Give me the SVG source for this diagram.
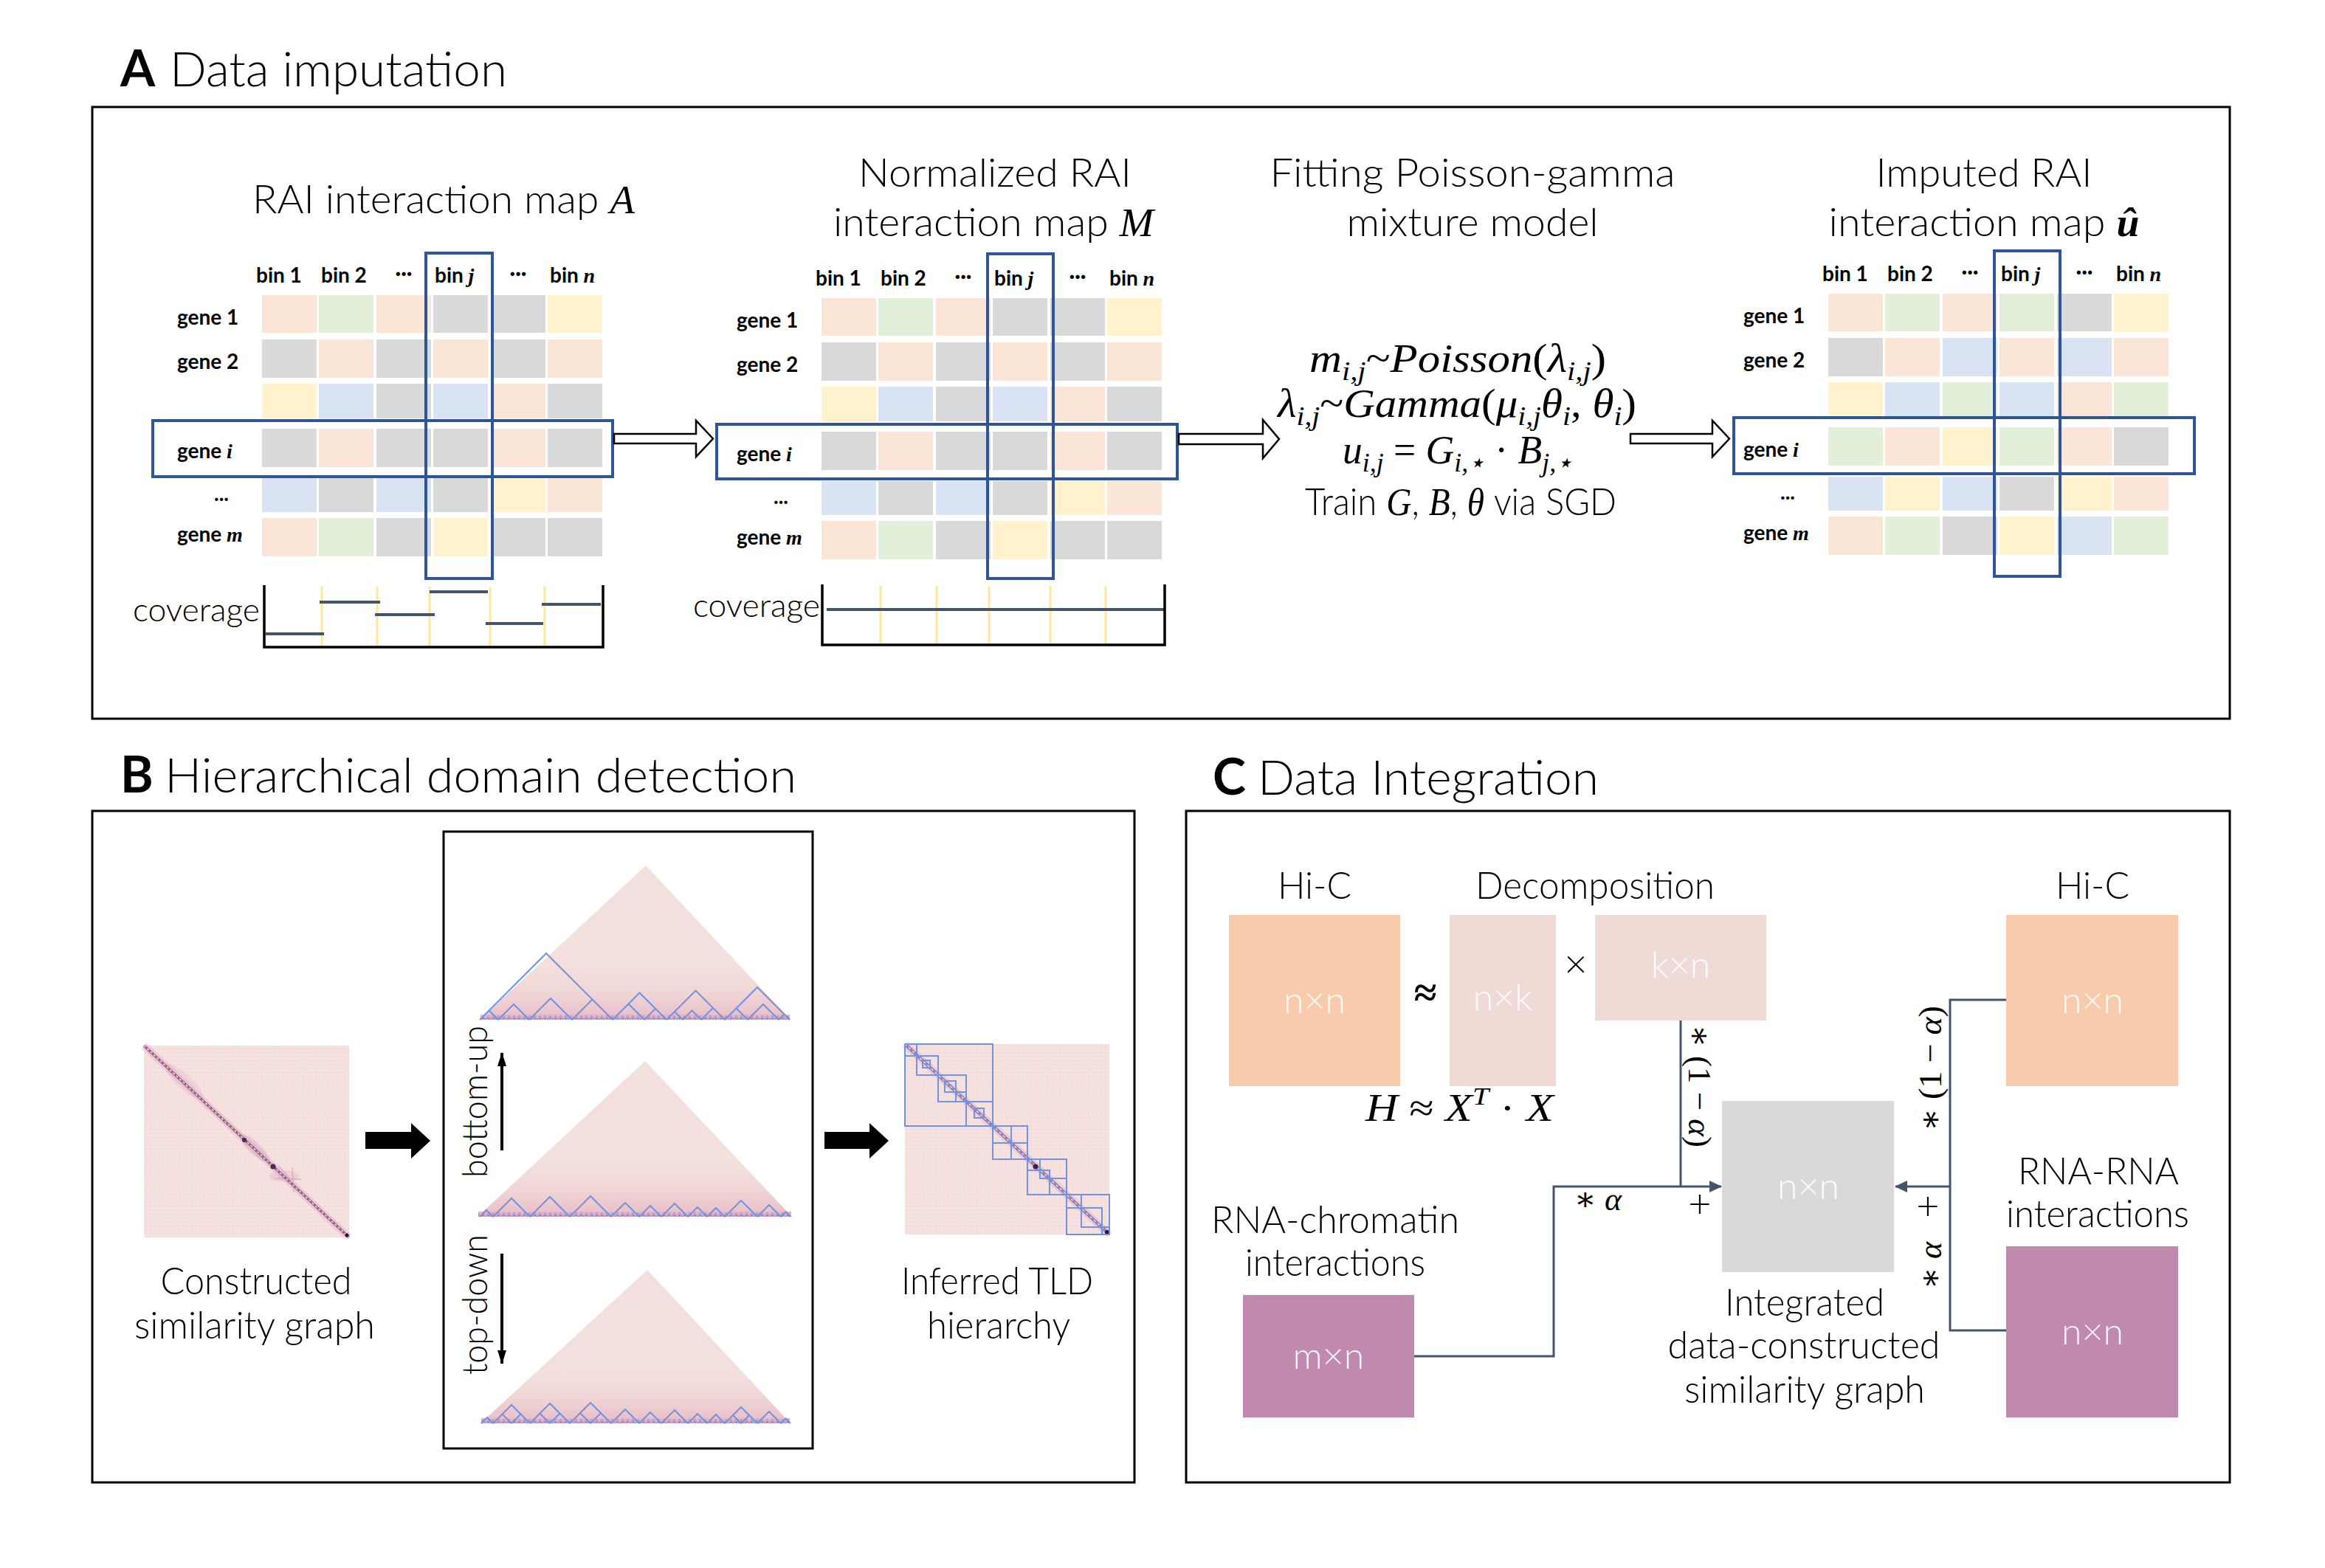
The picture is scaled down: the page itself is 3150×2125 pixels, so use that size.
<svg xmlns="http://www.w3.org/2000/svg" width="3150" height="2125" viewBox="0 0 3150 2125">
<defs>
<style>
.t{font-family:Lato,"Open Sans","Liberation Sans",sans-serif;font-weight:300;fill:#000}
.hd{font-family:Lato,"Liberation Sans",sans-serif;font-weight:700;fill:#000}
.mi{font-family:"Liberation Serif","DejaVu Serif",serif;font-style:italic;font-weight:400;fill:#000}
.n{font-style:normal}
.lab{font-family:Lato,"Liberation Sans",sans-serif;font-weight:700;font-size:28px;fill:#000}
.v{font-family:"Liberation Serif","DejaVu Serif",serif;font-style:italic;font-weight:700}
.P{fill:#FBE5D6}.G{fill:#E2F0D9}.Y{fill:#FFF2CC}.B{fill:#DAE3F3}.K{fill:#D9D9D9}
.panel{fill:none;stroke:#000;stroke-width:3}
.sel{fill:none;stroke:#2F5597;stroke-width:4}
.harrow{fill:#fff;stroke:#000;stroke-width:2.5}
.barrow{fill:#000;stroke:none}
.axis{fill:none;stroke:#000;stroke-width:3.5}
.ybar{stroke:#FFE699;stroke-width:3}
.step{stroke:#44546A;stroke-width:4}
.dom{fill:none;stroke:#7393E0;stroke-width:2}
.tri{fill:#F3DFDB}
.conn{fill:none;stroke:#44546A;stroke-width:3}
.bt{font-family:Lato,"Liberation Sans",sans-serif;font-weight:300;font-size:50px;fill:#fff;fill-opacity:0.9;text-anchor:middle}
.hm{fill:#F4DEDC}
.tld{fill:none;stroke:#7393E0;stroke-width:2}
.mid{text-anchor:middle}
</style>
<marker id="ah" markerUnits="userSpaceOnUse" markerWidth="18" markerHeight="18" refX="16" refY="9" orient="auto">
<path d="M0,1 L17,9 L0,17 z" fill="#44546A"/>
</marker>
<marker id="bh" markerUnits="userSpaceOnUse" markerWidth="20" markerHeight="14" refX="18" refY="7" orient="auto">
<path d="M0,1 L19,7 L0,13 z" fill="#000"/>
</marker>
<pattern id="hmgrid" width="5.6" height="5.2" patternUnits="userSpaceOnUse">
<path d="M5.6,0 V5.2 M0,5.2 H5.6" stroke="#fff" stroke-width="0.8" stroke-opacity="0.45" fill="none"/>
</pattern>
<pattern id="zig" width="7" height="7" patternUnits="userSpaceOnUse">
<rect width="7" height="7" fill="#E7B3C6"/>
<path d="M0,7 L3.5,1.5 L7,7" stroke="#7393E0" stroke-width="1" fill="none"/>
<circle cx="3.5" cy="5.5" r="1" fill="#9A4A7A"/>
</pattern>
<linearGradient id="basefade" x1="0" y1="1" x2="0" y2="0">
<stop offset="0" stop-color="#E0A2B8" stop-opacity="0.6"/>
<stop offset="0.2" stop-color="#E8BCC8" stop-opacity="0.2"/>
<stop offset="0.4" stop-color="#F3DFDB" stop-opacity="0"/>
</linearGradient>

<g id="grid12">
<rect class="P" x="0" y="0" width="74" height="51"/><rect class="G" x="77" y="0" width="74" height="51"/><rect class="P" x="155" y="0" width="74" height="51"/><rect class="K" x="232" y="0" width="74" height="51"/><rect class="K" x="310" y="0" width="74" height="51"/><rect class="Y" x="387" y="0" width="74" height="51"/>
<rect class="K" x="0" y="60" width="74" height="52"/><rect class="P" x="77" y="60" width="74" height="52"/><rect class="K" x="155" y="60" width="74" height="52"/><rect class="P" x="232" y="60" width="74" height="52"/><rect class="K" x="310" y="60" width="74" height="52"/><rect class="P" x="387" y="60" width="74" height="52"/>
<rect class="Y" x="0" y="120" width="74" height="47"/><rect class="B" x="77" y="120" width="74" height="47"/><rect class="K" x="155" y="120" width="74" height="47"/><rect class="B" x="232" y="120" width="74" height="47"/><rect class="P" x="310" y="120" width="74" height="47"/><rect class="K" x="387" y="120" width="74" height="47"/>
<rect class="K" x="0" y="181" width="74" height="52"/><rect class="P" x="77" y="181" width="74" height="52"/><rect class="K" x="155" y="181" width="74" height="52"/><rect class="K" x="232" y="181" width="74" height="52"/><rect class="P" x="310" y="181" width="74" height="52"/><rect class="K" x="387" y="181" width="74" height="52"/>
<rect class="B" x="0" y="248" width="74" height="46"/><rect class="K" x="77" y="248" width="74" height="46"/><rect class="B" x="155" y="248" width="74" height="46"/><rect class="K" x="232" y="248" width="74" height="46"/><rect class="Y" x="310" y="248" width="74" height="46"/><rect class="P" x="387" y="248" width="74" height="46"/>
<rect class="P" x="0" y="302" width="74" height="52"/><rect class="G" x="77" y="302" width="74" height="52"/><rect class="K" x="155" y="302" width="74" height="52"/><rect class="Y" x="232" y="302" width="74" height="52"/><rect class="K" x="310" y="302" width="74" height="52"/><rect class="K" x="387" y="302" width="74" height="52"/>
</g>
<g id="grid3">
<rect class="P" x="0" y="0" width="74" height="51"/><rect class="G" x="77" y="0" width="74" height="51"/><rect class="P" x="155" y="0" width="74" height="51"/><rect class="G" x="232" y="0" width="74" height="51"/><rect class="K" x="310" y="0" width="74" height="51"/><rect class="Y" x="387" y="0" width="74" height="51"/>
<rect class="K" x="0" y="60" width="74" height="52"/><rect class="P" x="77" y="60" width="74" height="52"/><rect class="B" x="155" y="60" width="74" height="52"/><rect class="P" x="232" y="60" width="74" height="52"/><rect class="B" x="310" y="60" width="74" height="52"/><rect class="P" x="387" y="60" width="74" height="52"/>
<rect class="Y" x="0" y="120" width="74" height="47"/><rect class="B" x="77" y="120" width="74" height="47"/><rect class="G" x="155" y="120" width="74" height="47"/><rect class="B" x="232" y="120" width="74" height="47"/><rect class="P" x="310" y="120" width="74" height="47"/><rect class="G" x="387" y="120" width="74" height="47"/>
<rect class="G" x="0" y="181" width="74" height="52"/><rect class="P" x="77" y="181" width="74" height="52"/><rect class="Y" x="155" y="181" width="74" height="52"/><rect class="G" x="232" y="181" width="74" height="52"/><rect class="P" x="310" y="181" width="74" height="52"/><rect class="K" x="387" y="181" width="74" height="52"/>
<rect class="B" x="0" y="248" width="74" height="46"/><rect class="Y" x="77" y="248" width="74" height="46"/><rect class="B" x="155" y="248" width="74" height="46"/><rect class="K" x="232" y="248" width="74" height="46"/><rect class="Y" x="310" y="248" width="74" height="46"/><rect class="P" x="387" y="248" width="74" height="46"/>
<rect class="P" x="0" y="302" width="74" height="52"/><rect class="G" x="77" y="302" width="74" height="52"/><rect class="K" x="155" y="302" width="74" height="52"/><rect class="Y" x="232" y="302" width="74" height="52"/><rect class="B" x="310" y="302" width="74" height="52"/><rect class="G" x="387" y="302" width="74" height="52"/>
</g>
<g id="maplab" class="lab">
<text x="-8" y="-17">bin 1</text>
<text x="80" y="-17">bin 2</text>
<text x="192" y="-20" class="mid">···</text>
<text x="234" y="-17">bin <tspan class="v">j</tspan></text>
<text x="347" y="-20" class="mid">···</text>
<text x="390" y="-17">bin <tspan class="v">n</tspan></text>
<text x="-115" y="40">gene 1</text>
<text x="-115" y="100">gene 2</text>
<text x="-115" y="221">gene <tspan class="v">i</tspan></text>
<text x="-55" y="279" class="mid">...</text>
<text x="-115" y="334">gene <tspan class="v">m</tspan></text>
</g>
</defs>

<rect x="0" y="0" width="3150" height="2125" fill="#fff"/>

<!-- Titles -->
<g id="title-A"><text class="hd" x="163" y="117" font-size="68">A</text><text class="t" x="230" y="117" font-size="66" textLength="457" lengthAdjust="spacingAndGlyphs">Data imputation</text></g>
<g id="title-B"><text class="hd" x="163" y="1074" font-size="68">B</text><text class="t" x="223" y="1074" font-size="66" textLength="856" lengthAdjust="spacingAndGlyphs">Hierarchical domain detection</text></g>
<g id="title-C"><text class="hd" x="1643" y="1077" font-size="68">C</text><text class="t" x="1704" y="1077" font-size="66" textLength="462" lengthAdjust="spacingAndGlyphs">Data Integration</text></g>

<!-- Panel frames -->
<g id="panel-frames">
<rect class="panel" x="125" y="145" width="2896" height="829"/>
<rect class="panel" x="125" y="1099" width="1412" height="910"/>
<rect class="panel" x="1607" y="1099" width="1414" height="910"/>
</g>

<!-- Panel A -->
<g id="map-A">
<text class="t" x="342" y="289" font-size="54" textLength="518" lengthAdjust="spacingAndGlyphs">RAI interaction map <tspan class="mi">A</tspan></text>
<use href="#grid12" transform="translate(355,400)"/>
<use href="#maplab" transform="translate(355,400)"/>
<rect class="sel" x="207" y="570" width="623" height="76"/>
<rect class="sel" x="577" y="343" width="90" height="441"/>
<g id="coverage-A">
<text class="t" x="352" y="842" font-size="44" text-anchor="end" textLength="172" lengthAdjust="spacingAndGlyphs">coverage</text>
<line class="ybar" x1="436" y1="795" x2="436" y2="877"/><line class="ybar" x1="511" y1="795" x2="511" y2="877"/><line class="ybar" x1="582" y1="795" x2="582" y2="877"/><line class="ybar" x1="664" y1="795" x2="664" y2="877"/><line class="ybar" x1="738" y1="795" x2="738" y2="877"/>
<line class="step" x1="360" y1="859" x2="439" y2="859"/>
<line class="step" x1="433" y1="816" x2="515" y2="816"/>
<line class="step" x1="508" y1="833" x2="589" y2="833"/>
<line class="step" x1="582" y1="802" x2="661" y2="802"/>
<line class="step" x1="658" y1="845" x2="736" y2="845"/>
<line class="step" x1="734" y1="819" x2="814" y2="819"/>
<path class="axis" d="M358,793 V877 H817 V793"/>
</g>
</g>

<g id="map-M">
<text class="t mid" x="1348" y="253" font-size="54" textLength="370" lengthAdjust="spacingAndGlyphs">Normalized RAI</text>
<text class="t mid" x="1346" y="320" font-size="54" textLength="434" lengthAdjust="spacingAndGlyphs">interaction map <tspan class="mi">M</tspan></text>
<use href="#grid12" transform="translate(1113,404)"/>
<use href="#maplab" transform="translate(1113,404)"/>
<rect class="sel" x="971" y="575" width="624" height="74"/>
<rect class="sel" x="1338" y="344" width="89" height="440"/>
<g id="coverage-M">
<text class="t" x="1111" y="836" font-size="44" text-anchor="end" textLength="172" lengthAdjust="spacingAndGlyphs">coverage</text>
<line class="ybar" x1="1193" y1="794" x2="1193" y2="874"/><line class="ybar" x1="1269" y1="794" x2="1269" y2="874"/><line class="ybar" x1="1340" y1="794" x2="1340" y2="874"/><line class="ybar" x1="1423" y1="794" x2="1423" y2="874"/><line class="ybar" x1="1498" y1="794" x2="1498" y2="874"/>
<line class="step" x1="1120" y1="826" x2="1577" y2="826"/>
<path class="axis" d="M1114,792 V874 H1578 V792"/>
</g>
</g>

<g id="model-fit">
<text class="t mid" x="1995" y="253" font-size="54" textLength="549" lengthAdjust="spacingAndGlyphs">Fitting Poisson-gamma</text>
<text class="t mid" x="1995" y="320" font-size="54" textLength="341" lengthAdjust="spacingAndGlyphs">mixture model</text>
<text class="mi mid" x="1975" y="504" font-size="54" textLength="402" lengthAdjust="spacingAndGlyphs">m<tspan font-size="36" dy="11">i,j</tspan><tspan class="n" dy="-11">~</tspan>Poisson<tspan class="n">(</tspan>λ<tspan font-size="36" dy="11">i,j</tspan><tspan class="n" dy="-11">)</tspan></text>
<text class="mi mid" x="1974" y="565" font-size="54" textLength="486" lengthAdjust="spacingAndGlyphs">λ<tspan font-size="36" dy="11">i,j</tspan><tspan class="n" dy="-11">~</tspan>Gamma<tspan class="n">(</tspan>μ<tspan font-size="36" dy="11">i,j</tspan><tspan dy="-11">θ</tspan><tspan font-size="36" dy="11">i</tspan><tspan class="n" dy="-11">, </tspan>θ<tspan font-size="36" dy="11">i</tspan><tspan class="n" dy="-11">)</tspan></text>
<text class="mi mid" x="1975" y="628" font-size="54" textLength="312" lengthAdjust="spacingAndGlyphs">u<tspan font-size="36" dy="11">i,j</tspan><tspan class="n" dy="-11"> = </tspan>G<tspan font-size="36" dy="11">i,⋆</tspan><tspan class="n" dy="-11"> · </tspan>B<tspan font-size="36" dy="11">j,⋆</tspan></text>
<text class="t mid" x="1979" y="698" font-size="52" textLength="422" lengthAdjust="spacingAndGlyphs">Train <tspan class="mi">G</tspan>, <tspan class="mi">B</tspan>, <tspan class="mi">θ</tspan> via SGD</text>
</g>

<g id="map-U">
<text class="t mid" x="2688" y="253" font-size="54" textLength="293" lengthAdjust="spacingAndGlyphs">Imputed RAI</text>
<text class="t mid" x="2688" y="320" font-size="54" textLength="421" lengthAdjust="spacingAndGlyphs">interaction map <tspan class="v">û</tspan></text>
<use href="#grid3" transform="translate(2477,398)"/>
<use href="#maplab" transform="translate(2477,398)"/>
<rect class="sel" x="2349" y="566" width="624" height="76"/>
<rect class="sel" x="2702" y="340" width="89" height="441"/>
</g>

<!-- Panel B -->
<g id="similarity-graph">
<rect class="hm" x="195" y="1417" width="278" height="260"/>
<rect x="195" y="1417" width="278" height="260" fill="url(#hmgrid)"/>
<ellipse cx="250" cy="1466" rx="34" ry="10" transform="rotate(43 250 1466)" fill="#E2B9C8" opacity="0.35"/>
<ellipse cx="345" cy="1556" rx="26" ry="8" transform="rotate(43 345 1556)" fill="#C98FAE" opacity="0.3"/>
<ellipse cx="385" cy="1594" rx="20" ry="8" fill="#D7A5BC" opacity="0.3"/>
<path d="M378,1580 L392,1598 M372,1597 L408,1598 M396,1582 L398,1616" stroke="#C08AA8" stroke-width="1.5" opacity="0.45"/>
<line x1="195" y1="1417" x2="473" y2="1677" stroke="#D5A3B8" stroke-opacity="0.35" stroke-width="10"/>
<line x1="195" y1="1417" x2="473" y2="1677" stroke="#9C5A88" stroke-width="3.5"/>
<line x1="195" y1="1417" x2="473" y2="1677" stroke="#F6E3E8" stroke-width="1.5" stroke-dasharray="3 3"/>
<circle cx="331" cy="1545" r="3" fill="#4E2550"/><circle cx="370" cy="1581" r="3.5" fill="#4E2550"/><circle cx="470" cy="1674" r="2.5" fill="#2A1430"/>
<text class="t mid" x="347" y="1754" font-size="52" textLength="259" lengthAdjust="spacingAndGlyphs">Constructed</text>
<text class="t mid" x="345" y="1814" font-size="52" textLength="326" lengthAdjust="spacingAndGlyphs">similarity graph</text>
</g>

<g id="tld-detection">
<rect class="panel" x="601" y="1127" width="500" height="836"/>
<g id="tri-top" transform="translate(0,1382)">
<polygon class="tri" points="650,0 875,-209 1071,0"/>
<polygon points="650,0 875,-209 1071,0" fill="url(#basefade)"/>
<rect x="651" y="-7" width="419" height="7" fill="url(#zig)"/>
<path class="dom" d="M650,0 L740,-90 L830,0 M650,0 L662.5,-12.5 L675,0 M675,0 L696,-21 L717,0 M717,0 L746,-29 L775,0 M775,0 L802.5,-27.5 L830,0 M830,0 L866.5,-36.5 L903,0 M830,0 L851.5,-21.5 L873,0 M873,0 L888,-15 L903,0 M903,0 L942.5,-39.5 L982,0 M903,0 L914,-11 L925,0 M925,0 L937.5,-12.5 L950,0 M950,0 L966,-16 L982,0 M982,0 L1026,-44 L1070,0 M982,0 L997.5,-15.5 L1013,0 M1013,0 L1034,-21 L1055,0 M1055,0 L1062.5,-7.5 L1070,0"/>
</g>
<g id="tri-mid" transform="translate(0,1649)">
<polygon class="tri" points="647,0 874,-211 1073,0"/>
<polygon points="647,0 874,-211 1073,0" fill="url(#basefade)"/>
<rect x="648" y="-7" width="424" height="7" fill="url(#zig)"/>
<path class="dom" d="M650,0 L659,-9 L668,0 M668,0 L693,-25 L718,0 M718,0 L745,-27 L772,0 M772,0 L800,-28 L828,0 M828,0 L847,-19 L866,0 M866,0 L881,-15 L896,0 M896,0 L914,-18 L932,0 M932,0 L945,-13 L958,0 M958,0 L970,-12 L982,0 M982,0 L1004,-22 L1026,0 M1026,0 L1042,-16 L1058,0 M1058,0 L1064.5,-6.5 L1071,0"/>
</g>
<g id="tri-bot" transform="translate(0,1929)">
<polygon class="tri" points="651,0 877,-208 1071,0"/>
<polygon points="651,0 877,-208 1071,0" fill="url(#basefade)"/>
<rect x="652" y="-7" width="418" height="7" fill="url(#zig)"/>
<path class="dom" d="M652,0 L660,-8 L668,0 M668,0 L693,-25 L718,0 M668,0 L680.5,-12.5 L693,0 M693,0 L705.5,-12.5 L718,0 M718,0 L745,-27 L772,0 M718,0 L731.5,-13.5 L745,0 M745,0 L758.5,-13.5 L772,0 M772,0 L800,-28 L828,0 M772,0 L786,-14 L800,0 M800,0 L814,-14 L828,0 M828,0 L847,-19 L866,0 M866,0 L881,-15 L896,0 M896,0 L914,-18 L932,0 M932,0 L945,-13 L958,0 M958,0 L970,-12 L982,0 M982,0 L1004,-22 L1026,0 M982,0 L993,-11 L1004,0 M1004,0 L1015,-11 L1026,0 M1026,0 L1042,-16 L1058,0 M1058,0 L1064.5,-6.5 L1071,0"/>
</g>
<text class="t" transform="translate(660,1493) rotate(-90)" font-size="48" text-anchor="middle" textLength="206" lengthAdjust="spacingAndGlyphs">bottom-up</text>
<text class="t" transform="translate(660,1768) rotate(-90)" font-size="48" text-anchor="middle" textLength="190" lengthAdjust="spacingAndGlyphs">top-down</text>
<line x1="680" y1="1559" x2="680" y2="1427" stroke="#000" stroke-width="4" marker-end="url(#bh)"/>
<line x1="680" y1="1699" x2="680" y2="1848" stroke="#000" stroke-width="4" marker-end="url(#bh)"/>
</g>

<g id="tld-hierarchy">
<rect class="hm" x="1226" y="1415" width="277" height="258"/>
<rect x="1226" y="1415" width="277" height="258" fill="url(#hmgrid)"/>
<line x1="1226" y1="1415" x2="1503" y2="1673" stroke="#D5A3B8" stroke-opacity="0.35" stroke-width="10"/>
<line x1="1226" y1="1415" x2="1503" y2="1673" stroke="#9C5A88" stroke-width="4"/>
<line x1="1226" y1="1415" x2="1503" y2="1673" stroke="#7393E0" stroke-width="2.5"/>
<line x1="1226" y1="1415" x2="1503" y2="1673" stroke="#F6E3E8" stroke-width="1.5" stroke-dasharray="3 4"/>
<circle cx="1403" cy="1581" r="3.5" fill="#3E1F45"/><circle cx="1500" cy="1670" r="3" fill="#2A1430"/>
<rect class="tld" x="1226" y="1415" width="119" height="111"/>
<rect class="tld" x="1226" y="1415" width="16" height="16"/>
<rect class="tld" x="1242" y="1431" width="29" height="26"/>
<rect class="tld" x="1271" y="1457" width="38" height="36"/>
<rect class="tld" x="1309" y="1493" width="36" height="33"/>
<rect class="tld" x="1250" y="1437" width="10" height="10"/>
<rect class="tld" x="1280" y="1465" width="15" height="15"/>
<rect class="tld" x="1295" y="1480" width="14" height="13"/>
<rect class="tld" x="1320" y="1502" width="13" height="13"/>
<rect class="tld" x="1345" y="1526" width="47" height="45"/>
<rect class="tld" x="1345" y="1526" width="25" height="23"/>
<rect class="tld" x="1370" y="1549" width="22" height="22"/>
<rect class="tld" x="1392" y="1571" width="53" height="48"/>
<rect class="tld" x="1392" y="1571" width="17" height="15"/>
<rect class="tld" x="1409" y="1586" width="13" height="11"/>
<rect class="tld" x="1422" y="1597" width="23" height="22"/>
<rect class="tld" x="1445" y="1619" width="58" height="54"/>
<rect class="tld" x="1445" y="1619" width="20" height="18"/>
<rect class="tld" x="1465" y="1637" width="28" height="26"/>
<rect class="tld" x="1493" y="1663" width="10" height="10"/>
<text class="t mid" x="1351" y="1754" font-size="52" textLength="260" lengthAdjust="spacingAndGlyphs">Inferred TLD</text>
<text class="t mid" x="1353" y="1814" font-size="52" textLength="194" lengthAdjust="spacingAndGlyphs">hierarchy</text>
</g>

<!-- Panel C -->
<g id="hic-left">
<text class="t mid" x="1781" y="1218" font-size="52" textLength="100" lengthAdjust="spacingAndGlyphs">Hi-C</text>
<rect x="1665" y="1240" width="232" height="232" fill="#F8CBAD"/>
<text class="bt" x="1781" y="1373">n×n</text>
</g>
<g id="decomposition">
<text class="t mid" x="2161" y="1218" font-size="52" textLength="324" lengthAdjust="spacingAndGlyphs">Decomposition</text>
<text x="1931" y="1364" font-family="'Liberation Serif',serif" font-weight="700" font-size="56" text-anchor="middle">≈</text>
<rect x="1964" y="1240" width="144" height="232" fill="#EFDAD5"/>
<text class="bt" x="2036" y="1369">n×k</text>
<text class="t mid" x="2135" y="1325" font-size="54">×</text>
<rect x="2161" y="1240" width="232" height="143" fill="#EFDAD5"/>
<text class="bt" x="2277" y="1325">k×n</text>
<text class="mi" x="1850" y="1519" font-size="52" textLength="255" lengthAdjust="spacingAndGlyphs">H <tspan class="n">≈</tspan> X<tspan font-size="34" dy="-22">T</tspan><tspan class="n" dy="22"> · </tspan>X</text>
</g>
<g id="integrated">
<rect x="2333" y="1492" width="233" height="232" fill="#D9D9D9"/>
<text class="bt" x="2450" y="1625">n×n</text>
<text class="t mid" x="2445" y="1783" font-size="52" textLength="216" lengthAdjust="spacingAndGlyphs">Integrated</text>
<text class="t mid" x="2444" y="1841" font-size="52" textLength="369" lengthAdjust="spacingAndGlyphs">data-constructed</text>
<text class="t mid" x="2445" y="1901" font-size="52" textLength="326" lengthAdjust="spacingAndGlyphs">similarity graph</text>
</g>
<g id="hic-right">
<text class="t mid" x="2835" y="1218" font-size="52" textLength="100" lengthAdjust="spacingAndGlyphs">Hi-C</text>
<rect x="2718" y="1240" width="233" height="232" fill="#F8CBAD"/>
<text class="bt" x="2835" y="1373">n×n</text>
</g>
<g id="rna-rna">
<text class="t mid" x="2843" y="1605" font-size="52" textLength="218" lengthAdjust="spacingAndGlyphs">RNA-RNA</text>
<text class="t mid" x="2842" y="1663" font-size="52" textLength="248" lengthAdjust="spacingAndGlyphs">interactions</text>
<rect x="2718" y="1689" width="233" height="232" fill="#C08AAE"/>
<text class="bt" x="2835" y="1822">n×n</text>
</g>
<g id="rna-chromatin">
<text class="t mid" x="1809" y="1671" font-size="52" textLength="336" lengthAdjust="spacingAndGlyphs">RNA-chromatin</text>
<text class="t mid" x="1809" y="1729" font-size="52" textLength="244" lengthAdjust="spacingAndGlyphs">interactions</text>
<rect x="1684" y="1755" width="232" height="166" fill="#C08AAE"/>
<text class="bt" x="1800" y="1855">m×n</text>
</g>

<!-- Connectors -->
<g id="connectors">
<polygon class="harrow" points="832,588 943,588 943,570 966,594.5 943,619 943,601 832,601"/>
<polygon class="harrow" points="1597,588 1711,588 1711,569 1733,595 1711,621 1711,602 1597,602"/>
<polygon class="harrow" points="2209,588 2320,588 2320,570 2343,594.5 2320,619 2320,601 2209,601"/>
<polygon class="barrow" points="495,1534 557,1534 557,1522 583,1546 557,1570 557,1557 495,1557"/>
<polygon class="barrow" points="1117,1534 1178,1534 1178,1522 1204,1546 1178,1570 1178,1557 1117,1557"/>
<path class="conn" d="M2277,1383 V1608"/>
<path class="conn" d="M1916,1838 H2105 V1608 H2332" marker-end="url(#ah)"/>
<path class="conn" d="M2718,1355 H2642 V1803 H2718"/>
<path class="conn" d="M2642,1608 H2568" marker-end="url(#ah)"/>
<text class="mi" transform="translate(2288,1472) rotate(90)" font-size="44" text-anchor="middle" textLength="166" lengthAdjust="spacingAndGlyphs"><tspan class="n">∗ (1 − </tspan>α<tspan class="n">)</tspan></text>
<text class="mi" transform="translate(2630,1448) rotate(-90)" font-size="44" text-anchor="middle" textLength="170" lengthAdjust="spacingAndGlyphs"><tspan class="n">∗ (1 − </tspan>α<tspan class="n">)</tspan></text>
<text class="mi" transform="translate(2630,1715) rotate(-90)" font-size="44" text-anchor="middle"><tspan class="n">∗ </tspan>α</text>
<text class="mi" x="2133" y="1640" font-size="44"><tspan class="n">∗ </tspan>α</text>
<text class="t mid" x="2303" y="1650" font-size="54">+</text>
<text class="t mid" x="2612" y="1653" font-size="54">+</text>
</g>
</svg>
